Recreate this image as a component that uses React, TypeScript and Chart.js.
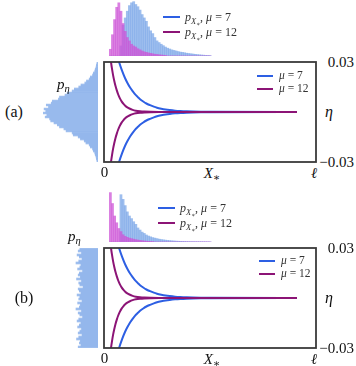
import React, { useEffect, useRef } from 'react';
import { Chart, registerables } from 'chart.js';
Chart.register(...registerables);

const FONT = "'Liberation Serif', 'DejaVu Serif', serif";
const HIST_BLUE = 'rgba(120,165,232,0.72)';
const HIST_PINK = 'rgba(205,85,215,0.75)';
const LINE_BLUE = '#2d5fe3';
const LINE_PURPLE = '#8c1476';

// ---- top histograms: bin centres along X* (0 .. ℓ = 1)
const topBins = [0.03, 0.04, 0.05, 0.06, 0.07, 0.08, 0.09, 0.10, 0.11, 0.12,
  0.13, 0.14, 0.15, 0.16, 0.17, 0.18, 0.19, 0.20, 0.21, 0.22,
  0.23, 0.24, 0.25, 0.26, 0.27, 0.28, 0.29, 0.30, 0.31, 0.32,
  0.33, 0.34, 0.35, 0.36, 0.37, 0.38, 0.39, 0.40, 0.41, 0.42,
  0.43, 0.44, 0.45, 0.46, 0.47, 0.48, 0.49, 0.50];
const pinkA = [0.12, 0.38, 0.65, 0.87, 0.95, 0.80, 0.58, 0.44, 0.33, 0.27,
  0.21, 0.18, 0.16, 0.13, 0.11, 0.09, 0.075, 0.065, 0.055, 0.048,
  0.04, 0.032, 0.028, 0.022, 0.018, 0.014, 0.01, 0, 0, 0,
  0, 0, 0, 0, 0, 0, 0, 0, 0, 0,
  0, 0, 0, 0, 0, 0, 0, 0];
const blueA = [0, 0, 0, 0, 0, 0.18, 0.55, 0.68, 0.80, 0.90,
  0.95, 0.97, 0.92, 0.88, 0.82, 0.74, 0.68, 0.62, 0.52, 0.45,
  0.40, 0.33, 0.27, 0.24, 0.21, 0.185, 0.16, 0.14, 0.125, 0.11,
  0.10, 0.09, 0.08, 0.07, 0.065, 0.058, 0.05, 0.045, 0.04, 0.035,
  0.03, 0.026, 0.022, 0.018, 0.015, 0.012, 0.01, 0.008];
const pinkB = [0.95, 0.74, 0.50, 0.37, 0.26, 0.20, 0.14, 0.11, 0.09, 0.075,
  0.065, 0.055, 0.045, 0.038, 0.03, 0.025, 0.02, 0.016, 0.012, 0.01,
  0.008, 0, 0, 0, 0, 0, 0, 0, 0, 0,
  0, 0, 0, 0, 0, 0, 0, 0, 0, 0,
  0, 0, 0, 0, 0, 0, 0, 0];
const blueB = [0, 0, 0, 0, 0, 0.91, 0.82, 0.70, 0.58, 0.50,
  0.45, 0.39, 0.34, 0.27, 0.23, 0.19, 0.165, 0.135, 0.115, 0.10,
  0.085, 0.075, 0.065, 0.055, 0.048, 0.042, 0.036, 0.031, 0.027, 0.023,
  0.02, 0.017, 0.015, 0.013, 0.011, 0.01, 0.008, 0.007, 0.006, 0.006,
  0.005, 0.005, 0.004, 0.004, 0.003, 0.003, 0.002, 0.002];

// ---- left histograms: bin centres along η
const etaBins = [0.0294, 0.0282, 0.027, 0.0258, 0.0246, 0.0234, 0.0222, 0.021, 0.0198, 0.0186,
  0.0174, 0.0162, 0.015, 0.0138, 0.0126, 0.0114, 0.0102, 0.009, 0.0078, 0.0066,
  0.0054, 0.0042, 0.003, 0.0018, 0.0006, -0.0006, -0.0018, -0.003, -0.0042, -0.0054,
  -0.0066, -0.0078, -0.009, -0.0102, -0.0114, -0.0126, -0.0138, -0.015, -0.0162, -0.0174,
  -0.0186, -0.0198, -0.021, -0.0222, -0.0234, -0.0246, -0.0258, -0.027, -0.0282, -0.0294];
const leftA = [0.02, 0.03, 0.035, 0.05, 0.06, 0.085, 0.10, 0.14, 0.16, 0.21,
  0.24, 0.31, 0.35, 0.43, 0.47, 0.56, 0.60, 0.70, 0.72, 0.83,
  0.85, 0.94, 0.90, 0.98, 0.95, 1.0, 0.93, 0.96, 0.88, 0.86,
  0.80, 0.74, 0.70, 0.62, 0.58, 0.47, 0.45, 0.36, 0.32, 0.25,
  0.22, 0.16, 0.14, 0.10, 0.085, 0.06, 0.05, 0.035, 0.03, 0.02];
const leftB = [0.33, 0.36, 0.30, 0.38, 0.34, 0.29, 0.35, 0.40, 0.31, 0.33,
  0.37, 0.28, 0.34, 0.36, 0.32, 0.39, 0.30, 0.35, 0.33, 0.27,
  0.36, 0.34, 0.31, 0.38, 0.33, 0.35, 0.29, 0.37, 0.32, 0.34,
  0.40, 0.30, 0.36, 0.33, 0.28, 0.35, 0.38, 0.31, 0.34, 0.37,
  0.30, 0.33, 0.36, 0.29, 0.35, 0.39, 0.32, 0.34, 0.31, 0.36];

// ---- main curves η(X*)
const blueX = [0.062, 0.071, 0.085, 0.099, 0.11, 0.123, 0.135, 0.146, 0.16, 0.17,
  0.185, 0.2, 0.217, 0.235, 0.25, 0.27, 0.29, 0.31, 0.335, 0.36,
  0.39, 0.42, 0.46, 0.5, 0.91];
const blueUpper = [0.034, 0.030, 0.0248, 0.0204, 0.0176, 0.0147, 0.0125, 0.0107, 0.0089, 0.0077,
  0.0063, 0.0051, 0.0041, 0.0032, 0.0026, 0.0020, 0.0015, 0.00114, 0.0008, 0.00057,
  0.00038, 0.00025, 0.00015, 0.00008, 0];
const blueLower = [-0.034, -0.030, -0.0248, -0.0204, -0.0176, -0.0147, -0.0125, -0.0107, -0.0089, -0.0077,
  -0.0063, -0.0051, -0.0041, -0.0032, -0.0026, -0.0020, -0.0015, -0.00114, -0.0008, -0.00057,
  -0.00038, -0.00025, -0.00015, -0.00008, 0];
const purpleX = [0.029, 0.033, 0.038, 0.043, 0.048, 0.054, 0.06, 0.067, 0.075, 0.083,
  0.092, 0.1, 0.11, 0.12, 0.135, 0.15, 0.17, 0.19, 0.22, 0.26, 0.91];
const purpleUpper = [0.034, 0.030, 0.0257, 0.0220, 0.0189, 0.0157, 0.0131, 0.0105, 0.0082, 0.0064,
  0.0049, 0.0038, 0.0028, 0.0021, 0.0013, 0.0008, 0.00044, 0.00024, 0.0001, 0.00003, 0];
const purpleLower = [-0.034, -0.030, -0.0257, -0.0220, -0.0189, -0.0157, -0.0131, -0.0105, -0.0082, -0.0064,
  -0.0049, -0.0038, -0.0028, -0.0021, -0.0013, -0.0008, -0.00044, -0.00024, -0.0001, -0.00003, 0];

const pts = (xs: number[], ys: number[]) => xs.map((x, i) => ({ x, y: ys[i] }));

const boxPlugin = {
  id: 'boxFrame',
  afterDraw(chart: any) {
    const { ctx, chartArea: a } = chart;
    ctx.save();
    ctx.strokeStyle = '#3a3a3a';
    ctx.lineWidth = 1.8;
    ctx.strokeRect(a.left, a.top, a.right - a.left, a.bottom - a.top);
    ctx.restore();
  },
};

const baseOpts = {
  responsive: false,
  animation: false,
  plugins: { legend: { display: false }, tooltip: { enabled: false } },
};

function mainConfig(): any {
  const line = (data: any, color: string) => ({
    data, borderColor: color, borderWidth: 2, pointRadius: 0, fill: false,
    cubicInterpolationMode: 'monotone', clip: 0,
  });
  return {
    type: 'line',
    data: {
      datasets: [
        line(pts(purpleX, purpleUpper), LINE_PURPLE),
        line(pts(purpleX, purpleLower), LINE_PURPLE),
        line(pts(blueX, blueUpper), LINE_BLUE),
        line(pts(blueX, blueLower), LINE_BLUE),
      ],
    },
    options: {
      ...baseOpts,
      layout: { padding: 2 },
      scales: {
        x: { type: 'linear', min: 0, max: 1, display: false },
        y: { type: 'linear', min: -0.03, max: 0.03, display: false },
      },
    },
    plugins: [boxPlugin],
  };
}

function topConfig(pink: number[], blue: number[]): any {
  return {
    type: 'bar',
    data: {
      datasets: [
        { data: pts(topBins, pink), backgroundColor: HIST_PINK },
        { data: pts(topBins, blue), backgroundColor: HIST_BLUE },
      ],
    },
    options: {
      ...baseOpts,
      layout: { padding: 0 },
      datasets: { bar: { grouped: false, barPercentage: 1, categoryPercentage: 1, borderWidth: 0 } },
      scales: {
        x: { type: 'linear', min: 0, max: 1, offset: false, display: false },
        y: { type: 'linear', min: 0, max: 1, display: false },
      },
    },
  };
}

function leftConfig(vals: number[]): any {
  return {
    type: 'bar',
    data: {
      datasets: [{ data: etaBins.map((e, i) => ({ x: vals[i], y: e })), backgroundColor: HIST_BLUE }],
    },
    options: {
      ...baseOpts,
      indexAxis: 'y',
      layout: { padding: 0 },
      datasets: { bar: { barPercentage: 1, categoryPercentage: 1, borderWidth: 0 } },
      scales: {
        x: { type: 'linear', min: 0, max: 1, reverse: true, display: false },
        y: { type: 'linear', min: -0.03, max: 0.03, offset: false, display: false },
      },
    },
  };
}

function ChartBox({ left, top, width, height, config }: any) {
  const ref = useRef<HTMLCanvasElement>(null);
  useEffect(() => {
    const c = new Chart(ref.current as HTMLCanvasElement, config);
    return () => c.destroy();
  }, []);
  return (
    <canvas ref={ref} width={width} height={height}
      style={{ position: 'absolute', left, top, width, height }} />
  );
}

function T({ x, y, anchor = 'center', size = 14, color = '#111', children }: any) {
  const tr = anchor === 'center' ? 'translate(-50%,-50%)' : anchor === 'left' ? 'translate(0,-50%)' : 'translate(-100%,-50%)';
  return (
    <div style={{ position: 'absolute', left: x, top: y, transform: tr, fontFamily: FONT, fontSize: size,
      lineHeight: 1, whiteSpace: 'nowrap', color }}>{children}</div>
  );
}

const subStyle: any = { fontSize: '0.7em', verticalAlign: '-0.3em', lineHeight: 0 };

function Swatch({ x, y, w, color }: any) {
  return <div style={{ position: 'absolute', left: x, top: y - 1, width: w, height: 2, background: color }} />;
}

function Panel({ oy, label, labelX, pX, pY, topTop, topH, pink, blue, left, topLegX, topLegY, mainLegX, mainLegY }: any) {
  const boxTop = oy;
  const boxBottom = oy + 100;
  const mid = oy + 50;
  return (
    <>
      <ChartBox left={104} top={topTop} width={212} height={topH} config={topConfig(pink, blue)} />
      <ChartBox left={43} top={boxTop} width={55} height={100} config={leftConfig(left)} />
      <ChartBox left={102} top={boxTop - 2} width={216} height={104} config={mainConfig()} />
      <T x={labelX} y={mid} size={16}>{label}</T>
      <T x={pX} y={pY} anchor="left" size={15}><i>p</i><sub style={subStyle}><i>η</i></sub></T>
      <T x={354} y={boxTop} anchor="right" size={15}>0.03</T>
      <T x={354} y={boxBottom} anchor="right" size={15}>−0.03</T>
      <T x={329} y={mid} size={16}><i>η</i></T>
      <T x={104.5} y={boxBottom + 10} size={15}>0</T>
      <T x={212} y={boxBottom + 11} size={15}><i>X</i><sub style={subStyle}>∗</sub></T>
      <T x={314} y={boxBottom + 11} size={15}><i>ℓ</i></T>
      <Swatch x={topLegX} y={topLegY} w={17} color={LINE_BLUE} />
      <Swatch x={topLegX} y={topLegY + 15} w={17} color={LINE_PURPLE} />
      <T x={topLegX + 22} y={topLegY} anchor="left" size={12} color="#333">
        <i>p</i><sub style={subStyle}><i>X</i><sub style={subStyle}>∗</sub></sub>, <i>μ</i> = 7</T>
      <T x={topLegX + 22} y={topLegY + 15} anchor="left" size={12} color="#333">
        <i>p</i><sub style={subStyle}><i>X</i><sub style={subStyle}>∗</sub></sub>, <i>μ</i> = 12</T>
      <Swatch x={mainLegX} y={mainLegY} w={16} color={LINE_BLUE} />
      <Swatch x={mainLegX} y={mainLegY + 13} w={16} color={LINE_PURPLE} />
      <T x={mainLegX + 22} y={mainLegY} anchor="left" size={11.5} color="#333"><i>μ</i> = 7</T>
      <T x={mainLegX + 22} y={mainLegY + 13} anchor="left" size={11.5} color="#333"><i>μ</i> = 12</T>
    </>
  );
}

export default function App() {
  return (
    <div style={{ position: 'absolute', left: 0, top: 0, width: 356, height: 366, background: '#fff', overflow: 'hidden' }}>
      <Panel oy={62} label="(a)" labelX={14} pX={57} pY={84} topTop={0} topH={56}
        pink={pinkA} blue={blueA} left={leftA} topLegX={163} topLegY={17} mainLegX={257} mainLegY={76} />
      <Panel oy={248} label="(b)" labelX={24} pX={68} pY={236} topTop={190} topH={52}
        pink={pinkB} blue={blueB} left={leftB} topLegX={158} topLegY={208} mainLegX={259} mainLegY={261} />
    </div>
  );
}
